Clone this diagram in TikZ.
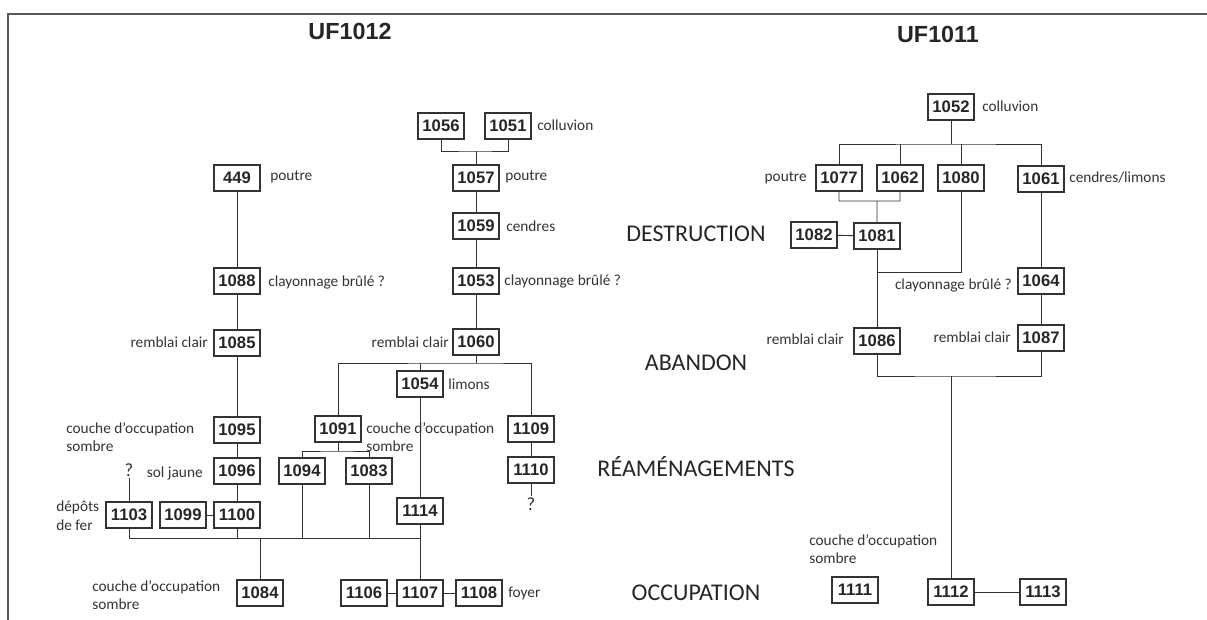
\documentclass[tikz,border=0pt]{standalone}
\usepackage{fontspec}
\setmainfont{Carlito}
\newfontfamily\boxfont{Liberation Sans}
\begin{document}
\begin{tikzpicture}[x=0.75pt,y=-0.75pt,
	ue/.style={draw=black!80,line width=0.8pt,minimum width=34.5pt,minimum height=19.5pt,
		inner sep=0pt,text=black!85,font=\boxfont\bfseries\fontsize{12.5}{12.5}\selectfont},
	lbl/.style={inner sep=0pt,align=left,text=black!80,font=\fontsize{11.5}{14}\selectfont},
	quest/.style={inner sep=1pt,text=black!80,font=\fontsize{14}{14}\selectfont},
	phase/.style={text=black!85,font=\fontsize{18}{18}\selectfont},
	titre/.style={text=black!85,font=\boxfont\bfseries\fontsize{17.5}{17.5}\selectfont},
	cnx/.style={draw=black!80,line width=0.7pt}]
	\useasboundingbox (0,0) rectangle (1207,620);
	\draw[black!65,line width=1.1pt] (8,620)--(8,14)--(1207,14);
	\path (350,31) node[titre](uf12){UF1012} (938,34) node[titre](uf11){UF1011};
	\foreach \y/\texn in {234/DESTRUCTION,363/ABANDON,
		467/RÉAMÉNAGEMENTS,593/OCCUPATION}
	\path (696,\y) node[phase](\texn){\texn};
	% unites
	\foreach \n/\x/\y in {449/237/178,1088/237/281,1085/237/343,1095/237/430,
		1096/237/471,1100/237/515,1099/183/515,1103/129/515,1084/260/593,
		1106/364/593,1107/420/593,1108/479/593,1056/441/126,1051/508/126,
		1057/476/178,1059/476/226,1053/476/281,1060/476/342,1054/420/384,
		1091/338/429,1094/302/471,1083/369/471,1109/531/429,1110/531/470,
		1114/420/511,1052/951/107,1077/839/178,1062/900/178,1080/961/178,
		1061/1041/179,1082/814/235,1081/877/236,1064/1041/281,1087/1041/338,
		1086/877/341,1111/855/590,1112/951/592,1113/1043/592}
	\path (\x,\y) node[ue](\n){\n};
	% descriptions
	\foreach \n/\x/\y/\a/\texn in {449/270/177/west/poutre,
		1088/268/282/west/clayonnage brûlé ?,1085/208/342/east/remblai clair,
		1095/66/437/west/couche d'occupation\\sombre,1096/203/473/east/sol jaune,
		1103/56/516/west/dépôts\\de fer,1084/92/595/west/couche d'occupation\\sombre,
		1051/537/125/west/colluvion,1057/505/177/west/poutre,
		1059/506/226/west/cendres,1053/504/281/west/clayonnage brûlé ?,
		1060/449/342/east/remblai clair,1054/448/384/west/limons,
		1091/366/437/west/couche d'occupation\\sombre,1108/508/593/west/foyer,
		1052/982/106/west/colluvion,1077/807/178/east/poutre,
		1061/1069/178/west/{cendres/limons},1064/1012/285/east/clayonnage brûlé ?,
		1087/1011/337/east/remblai clair,1086/844/339/east/remblai clair,
		1111/809/549/west/couche d'occupation\\sombre}
	\path (\x,\y) node[lbl,anchor=\a](l\n){\texn};
	\path (129,470) node[quest](q1){?} (531,504) node[quest](q2){?};
	% UF1012
	\coordinate (b56) at (476,151);
	\coordinate (b60) at (476,363);
	\coordinate (b91) at (338,451);
	\coordinate (b84) at (260,538);
	\draw[cnx] (449)--(1088)--(1085)--(1095)--(1096)--(1100);
	\draw[cnx] (1057)--(1059)--(1053)--(1060);
	\draw[cnx] (1054)--(1114)--(1107);
	\draw[cnx] (1099)--(1100) (1106)--(1107)--(1108);
	\draw[cnx] (1056) |- (b56) -| (1051) (b56)--(1057);
	\draw[cnx] (1060)--(b60) (1091) |- (b60) -| (1109) (1054)--(1054 |- b60);
	\draw[cnx] (1091)--(b91) (1094) |- (b91) -| (1083);
	\draw[cnx] (1109)--(1110) (1110)--(q2) (1103)--(q1);
	\draw[cnx] (1103) |- (b84) -| (1084) (b84)--(b84 -| 1107);
	\draw[cnx] (1100)--(1100 |- b84) (1094)--(1094 |- b84) (1083)--(1083 |- b84);
	% UF1011
	\coordinate (b52) at (951,144);
	\coordinate (b77) at (877,201);
	\coordinate (b80) at (877,272);
	\coordinate (b86) at (951,376);
	\draw[cnx] (1052)--(b52) (1077) |- (b52) -| (1061)
	(1062)--(1062 |- b52) (1080)--(1080 |- b52);
	\draw[cnx] (1077) |- (b77) -| (1062) (b77)--(1081) (1082)--(1081);
	\draw[cnx] (1081)--(1086) (1080) |- (b80);
	\draw[cnx] (1061)--(1064)--(1087);
	\draw[cnx] (1086) |- (b86) -| (1087) (b86)--(1112) (1112)--(1113);
\end{tikzpicture}
\end{document}
